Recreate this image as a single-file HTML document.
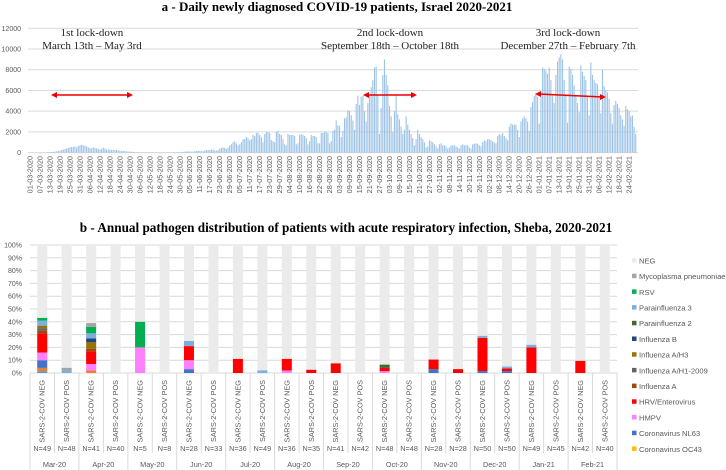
<!DOCTYPE html>
<html><head><meta charset="utf-8">
<style>
body{margin:0;background:#fff;}
svg{display:block;}
.ser{font-family:"Liberation Serif",serif;}
.san{font-family:"Liberation Sans",sans-serif;}
</style></head>
<body>
<svg id="chart" width="726" height="470" viewBox="0 0 726 470" xmlns="http://www.w3.org/2000/svg">
<text class="ser" x="337" y="11" text-anchor="middle" font-size="13" font-weight="bold">a - Daily newly diagnosed COVID-19 patients, Israel 2020-2021</text>
<g id="a-grid"></g>
<g id="a-yt"></g>
<g id="a-bars"></g>
<g id="a-xt"></g>
<g class="ser" font-size="11" fill="#222">
<text x="92" y="36" text-anchor="middle">1st lock-down</text>
<text x="92" y="49" text-anchor="middle">March 13th – May 3rd</text>
<text x="390" y="36" text-anchor="middle">2nd lock-down</text>
<text x="390" y="49" text-anchor="middle">September 18th – October 18th</text>
<text x="568" y="36" text-anchor="middle">3rd lock-down</text>
<text x="568" y="49" text-anchor="middle">December 27th – February  7th</text>
</g>
<g stroke="#e00" stroke-width="1.5" fill="#e00">
<line x1="54" y1="95" x2="130" y2="95"/>
<polygon points="51,95 57,92 57,98" stroke="none"/><polygon points="133,95 127,92 127,98" stroke="none"/>
<line x1="366" y1="95" x2="414" y2="95"/>
<polygon points="363,95 369,92 369,98" stroke="none"/><polygon points="417,95 411,92 411,98" stroke="none"/>
<line x1="538" y1="94" x2="603" y2="97"/>
<polygon points="535,94 541,91 541,97" stroke="none"/><polygon points="606,97 600,94 600,100" stroke="none"/>
</g>
<text class="ser" x="346" y="232" text-anchor="middle" font-size="13.2" font-weight="bold">b - Annual pathogen distribution of patients with acute respiratory infection, Sheba, 2020-2021</text>
<g id="b-grid"></g>
<g id="b-bars"></g>
<g id="b-cat"></g>
<g id="b-leg"></g>
</svg>
<script>
const NS="http://www.w3.org/2000/svg";
// ---- chart a data ----
const aYTicks=[0,2000,4000,6000,8000,10000,12000];
const dailyCases=[
0,0,1,2,3,5,5,10,15,20,30,40,
50,60,80,100,120,150,200,250,300,350,400,450,500,550,550,600,500,650,700,
750,700,650,600,500,450,400,500,450,400,350,300,350,500,400,300,300,300,250,250,250,250,200,200,150,150,150,120,100,100,
80,60,50,40,30,30,20,20,20,15,15,15,20,20,15,10,10,15,20,20,20,20,20,15,15,20,25,30,40,60,50,
80,100,100,120,100,80,100,150,150,200,150,120,150,200,250,250,250,300,300,200,200,250,400,450,500,450,350,500,700,800,
1000,1100,900,700,800,1000,1300,1300,1500,1400,1200,1300,1700,1600,1900,1900,1700,1500,1000,1800,2000,2000,1900,1200,1100,1000,2000,2100,1800,1700,1300,
800,700,1800,1700,1700,1700,1600,800,900,1700,1800,1700,1600,1400,800,1100,1700,1600,1600,1500,900,900,1900,1900,2000,2000,1900,900,1100,2100,2200,
3100,2600,2600,1500,2100,3300,3400,4100,4000,3600,3100,2200,4700,5500,4600,5400,5500,4000,3000,4800,5500,6300,7000,8200,8300,5500,1800,4300,7500,9000,
7500,6500,4500,3500,2000,4000,5500,3700,3200,2500,1800,2200,3500,2700,2200,1800,1400,700,1300,2200,1800,1500,1300,1000,500,600,1200,1100,1000,800,600,
400,800,900,700,700,600,400,500,700,700,700,600,500,400,700,800,700,750,700,500,400,800,850,900,850,700,600,1000,1200,1100,
1300,1300,1200,1100,1000,900,1600,1800,1700,1900,1600,1400,1200,2500,2800,2700,2700,2700,2200,1500,3000,3300,3500,3300,3000,2100,4400,4900,5500,5700,5400,
2800,5500,8200,8100,7900,7600,8200,7000,5500,4800,7500,8800,9200,9500,9000,7000,5500,2900,8300,8100,7500,6500,5500,4800,3900,8400,7800,7400,7000,5400,3600,
8700,7500,7000,6700,6600,5500,3800,8000,6400,6000,5800,5200,3800,2800,4600,5000,4700,4300,3600,3200,2600,4500,4200,4000,3500,3600,2500,1800];
const dateLabels=["01-03-2020","07-03-2020","13-03-2020","19-03-2020","25-03-2020","31-03-2020","06-04-2020","12-04-2020","18-04-2020","24-04-2020","30-04-2020","06-05-2020","12-05-2020","18-05-2020","24-05-2020","30-05-2020","05-06-2020","11-06-2020","17-06-2020","23-06-2020","29-06-2020","05-07-2020","11-07-2020","17-07-2020","23-07-2020","29-07-2020","04-08-2020","10-08-2020","16-08-2020","22-08-2020","28-08-2020","03-09-2020","09-09-2020","15-09-2020","21-09-2020","27-09-2020","03-10-2020","09-10-2020","15-10-2020","21-10-2020","27-10-2020","02-11-2020","08-11-2020","14-11-2020","20-11-2020","26-11-2020","02-12-2020","08-12-2020","14-12-2020","20-12-2020","26-12-2020","01-01-2021","07-01-2021","13-01-2021","19-01-2021","25-01-2021","31-01-2021","06-02-2021","12-02-2021","18-02-2021","24-02-2021"];
// ---- chart b data ----
const months=["Mar-20","Apr-20","May-20","Jun-20","Jul-20","Aug-20","Sep-20","Oct-20","Nov-20","Dec-20","Jan-21","Feb-21"];
const groups=["SARS-2-COV NEG","SARS-2-COV POS"];
const nValues=[49,48,41,40,5,8,28,33,36,49,36,35,41,42,48,48,28,28,50,50,49,45,42,40];
const bYTicks=[0,10,20,30,40,50,60,70,80,90,100];
const sAdenoLike=[1.5,0,0,0,0,0,0,0,0,0,0,0,0,0,0,0,0,0,0,0,0,0,0,0];
const sOrange  =[2.5,0,2,0,0,0,0,0,0,0,0,0,0,0,0,0,0,0,0,0,0,0,0,0];
const sOC43    =[0,0,0,0,0,0,0,0,0,0,0,0,0,0,0,0,0,0,0,0,0,0,0,0];
const sNL63    =[6,0,0,0,0,0,3,0,0,0,0,0,0,0,0,0,3,0,1.5,1.5,0,0,0,0];
const sHMPV    =[6,0,5,0,20,0,7,0,0,0,2,0,0,0,1.5,0,0,0,0,0,0,0,0,0];
const sHRV     =[15,0,10,0,0,0,11,0,11,0,9,2.5,7.5,0,2.5,0,7.5,3,26,2,20,0,9.5,0];
const sFluA    =[2,0,2,0,0,0,0,0,0,0,0,0,0,0,0,0,0,0,0,0,0,0,0,0];
const sH1      =[2,0,0,0,0,0,0,0,0,0,0,0,0,0,0,0,0,0,0,0,0,0,0,0];
const sH3      =[2,0,5,0,0,0,0,0,0,0,0,0,0,0,0,0,0,0,0,0,0,0,0,0];
const sFluB    =[0,0,3,0,0,0,0,0,0,0,0,0,0,0,0,0,0,0,0,0,0,0,0,0];
const sPara2   =[0,0,0,0,0,0,0,0,0,0,0,0,0,0,2.5,0,0,0,0,0,0,0,0,0];
const sPara3   =[4,2,4,0,0,0,4,0,0,2,0,0,0,0,0,0,0,0,1.5,1.5,2,0,0,0];
const sRSV     =[2,0,5,0,20,0,0,0,0,0,0,0,0,0,0,0,0,0,0,0,0,0,0,0];
const sMyco    =[0,2,3,0,0,0,0,0,0,0,0,0,0,0,0,0,0,0,0,0,0,0,0,0];
const seriesData=[sAdenoLike,sOrange,sOC43,sNL63,sHMPV,sHRV,sFluA,sH1,sH3,sFluB,sPara2,sPara3,sRSV,sMyco];
const seriesColors=["#5b9bd5","#ed7d31","#ffc000","#4472c4","#ff80ff","#ff0000","#9e480e","#636363","#997300","#264478","#43682b","#7cafdd","#00b050","#a5a5a5"];
const legendNames=["NEG","Mycoplasma pneumoniae","RSV","Parainfluenza 3","Parainfluenza 2","Influenza B","Influenza A/H3","Influenza A/H1-2009","Influenza A","HRV/Enterovirus","HMPV","Coronavirus NL63","Coronavirus OC43"];
const legendColors=["#ebebeb","#a5a5a5","#00b050","#7cafdd","#43682b","#264478","#997300","#636363","#9e480e","#ff0000","#ff80ff","#4472c4","#ffc000"];

function mk(tag,attrs,parent,txt){const e=document.createElementNS(NS,tag);for(const k in attrs)e.setAttribute(k,attrs[k]);if(txt!==undefined)e.textContent=txt;parent.appendChild(e);return e;}

// ---- chart a ----
const aX0=30,aPx=1.664,aY0=152.6,aYTop=28.3,aMax=12000;
const ay=v=>aY0-(v/aMax)*(aY0-aYTop);
const ax=d=>aX0+d*aPx;
const gA=document.getElementById('a-grid'),ytA=document.getElementById('a-yt');
aYTicks.forEach(t=>{
  const l=mk('line',{x1:28,x2:638,y1:ay(t),y2:ay(t),stroke:'#d9d9d9','stroke-width':1},gA);
  
  
  const tx=mk('text',{x:21,y:ay(t)+2.5,'text-anchor':'end','font-size':7,fill:'#595959',class:'san'},ytA,String(t));
  
  
});
const bA=document.getElementById('a-bars');
dailyCases.forEach((v,i)=>{
  const r=mk('rect',{x:ax(i)-0.5,y:ay(v),width:1.1,height:Math.max(0,aY0-ay(v)),fill:'#9dc3e6'},bA);
  
  
});
const xtA=document.getElementById('a-xt');
dateLabels.forEach((s,i)=>{
  const x=ax(i*6)+2.5;
  const t=mk('text',{x:x,y:156,transform:`rotate(-90 ${x} 156)`,'text-anchor':'end','font-size':7.3,fill:'#595959',class:'san'},xtA,s);
  
  
});

// ---- chart b ----
const bX0=30,bX1=617,bY0=373,bYTop=245;
const slotW=(bX1-bX0)/24;
const by=v=>bY0-(v/100)*(bY0-bYTop);
const gB=document.getElementById('b-grid');
bYTicks.forEach(t=>{
  const l=mk('line',{x1:bX0,x2:bX1,y1:by(t),y2:by(t),stroke:'#d9d9d9','stroke-width':1},gB);
  
  
  const tx=mk('text',{x:22,y:by(t)+2.5,'text-anchor':'end','font-size':7,fill:'#595959',class:'san'},gB,t+'%');
  
  
});
const bB=document.getElementById('b-bars');
for(let i=0;i<24;i++){
  const cx=bX0+slotW*(i+0.5),bw=10;
  const bg=mk('rect',{x:cx-bw/2,y:by(100),width:bw,height:by(0)-by(100),fill:'#ebebeb'},bB);
  
  
  let acc=0;
  seriesData.forEach((arr,k)=>{
    const v=arr[i];if(!v)return;
    const r=mk('rect',{x:cx-bw/2,y:by(acc+v),width:bw,height:by(acc)-by(acc+v),fill:seriesColors[k]},bB);
    
    
    acc+=v;
  });
}
const cB=document.getElementById('b-cat');
for(let i=0;i<=24;i++){
  const x=bX0+slotW*i;
  const l=mk('line',{x1:x,x2:x,y1:bY0,y2:(i%2===0)?470:453,stroke:'#d9d9d9','stroke-width':1},cB);
  
  
}
for(let i=0;i<24;i++){
  const cx=bX0+slotW*(i+0.5);
  const t=mk('text',{x:cx+2.5,y:380,transform:`rotate(-90 ${cx+2.5} 380)`,'text-anchor':'end','font-size':7.3,fill:'#595959',class:'san'},cB,groups[i%2]);
  
  
  const n=mk('text',{x:cx,y:451,'text-anchor':'middle','font-size':7.3,fill:'#595959',class:'san'},cB,'N='+nValues[i]);
  
  
}
months.forEach((m,j)=>{
  const t=mk('text',{x:bX0+slotW*(2*j+1),y:467,'text-anchor':'middle','font-size':7.3,fill:'#595959',class:'san'},cB,m);
  
  
});
const lg=document.getElementById('b-leg');
legendNames.forEach((nm,i)=>{
  const y=261+i*15.7;
  const g=mk('g',{},lg);
  
  
  mk('rect',{x:632,y:y-3,width:4.5,height:4.5,fill:legendColors[i]},g);
  mk('text',{x:639,y:y+2.4,'font-size':7.6,fill:'#595959',class:'san'},g,nm);
});
</script>
</body></html>
